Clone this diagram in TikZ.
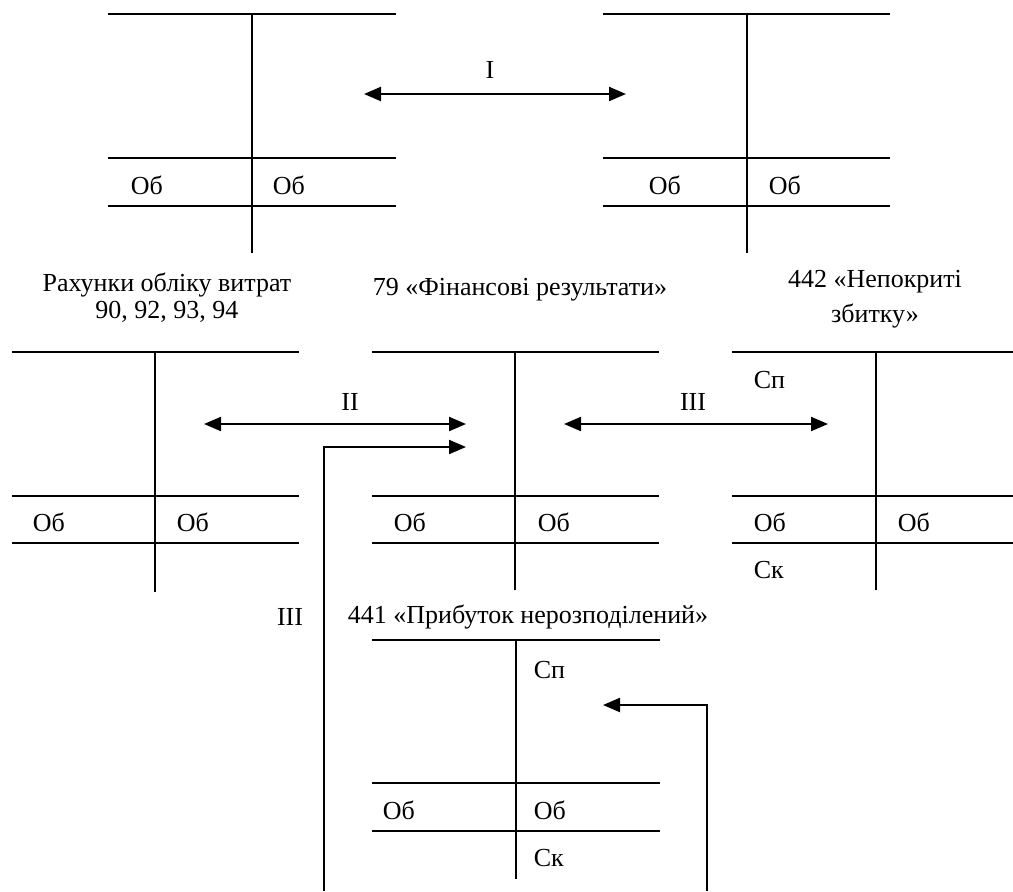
\documentclass[tikz,border=0pt]{standalone}
\usepackage{fontspec}
\setmainfont{Liberation Serif}
\usetikzlibrary{arrows.meta}

\begin{document}
\begin{tikzpicture}[x=0.5pt, y=-0.5pt, line width=0.9pt,
  every node/.style={font=\fontsize{13}{13.5}\selectfont, inner sep=0pt},
  arr/.style={line width=1.1pt, -{Triangle[length=8.5pt,width=7pt]}},
  darr/.style={line width=1.1pt, {Triangle[length=8.5pt,width=7pt]}-{Triangle[length=8.5pt,width=7pt]}}]
  \useasboundingbox (0,0) rectangle (1013,891);

  % T-accounts
  \draw (108,14) -- (396,14) (252,14) -- (252,253) (108,158) -- (396,158) (108,206) -- (396,206);
  \draw (603,14) -- (890,14) (747,14) -- (747,253) (603,158) -- (890,158) (603,206) -- (890,206);
  \draw (12,352) -- (299,352) (155,352) -- (155,592) (12,496) -- (299,496) (12,543) -- (299,543);
  \draw (372,352) -- (659,352) (515,352) -- (515,590) (372,496) -- (659,496) (372,543) -- (659,543);
  \draw (732,352) -- (1013,352) (876,352) -- (876,590) (732,496) -- (1013,496) (732,543) -- (1013,543);
  \draw (372,640) -- (660,640) (516,640) -- (516,879) (372,783) -- (660,783) (372,831) -- (660,831);

  \node[anchor=west] (a1) at (130,185) {Об};
  \node[anchor=west] (a2) at (272,185) {Об};
  \node[anchor=west] (b1) at (648,185) {Об};
  \node[anchor=west] (b2) at (768,185) {Об};
  \node[anchor=west] (c1) at (32,522) {Об};
  \node[anchor=west] (c2) at (176,522) {Об};
  \node[anchor=west] (f1) at (393,522) {Об};
  \node[anchor=west] (f2) at (537,522) {Об};
  \node[anchor=west] (e1) at (753,522) {Об};
  \node[anchor=west] (e2) at (897,522) {Об};
  \node[anchor=west] (esp) at (753,380) {Сп};
  \node[anchor=west] (esk) at (753,570) {Ск};
  \node[anchor=west] (d1) at (382,810) {Об};
  \node[anchor=west] (d2) at (533,810) {Об};
  \node[anchor=west] (dsp) at (533,670) {Сп};
  \node[anchor=west] (dsk) at (533,858) {Ск};

  \node[align=center] (costs) at (167,298) {Рахунки обліку витрат\\90, 92, 93, 94};
  \node (fin) at (520,290) {79 «Фінансові результати»};
  \node[align=center, font=\fontsize{13}{17.5}\selectfont] (loss) at (875,299) {442 «Непокриті\\збитку»};
  \node[anchor=west] (profit) at (347,617) {441 «Прибуток нерозподілений»};

  \node (l1) at (490,70) {I};
  \node (l2) at (350,402) {II};
  \node (l3) at (693,402) {III};
  \node (l4) at (290,617) {III};

  \coordinate (i1) at (364,94);
  \coordinate (i2) at (626,94);
  \coordinate (ii1) at (204,424);
  \coordinate (ii2) at (466,424);
  \coordinate (iii1) at (564,424);
  \coordinate (iii2) at (828,424);
  \coordinate (p1) at (324,891);
  \coordinate (p2) at (324,447);
  \coordinate (p3) at (466,447);
  \coordinate (q1) at (707,891);
  \coordinate (q2) at (707,705);
  \coordinate (q3) at (603,705);

  \draw[darr] (i1) -- (i2);
  \draw[darr] (ii1) -- (ii2);
  \draw[darr] (iii1) -- (iii2);
  \draw[arr] (p1) -- (p2) -- (p3);
  \draw[arr] (q1) -- (q2) -- (q3);
\end{tikzpicture}
\end{document}
